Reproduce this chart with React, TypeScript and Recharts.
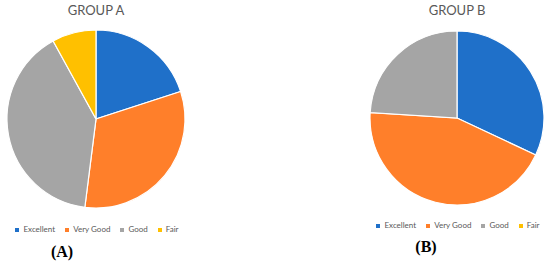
import React from "react";
import { PieChart, Pie, Cell, Legend } from "recharts";

const categories = ["Excellent", "Very Good", "Good", "Fair"];
const groupA = [20, 32, 40, 8];
const groupB = [32, 44, 24, 0];
const colors = ["#1F70C9", "#FF7F2A", "#A5A5A5", "#FFC000"];

const FONT = "Lato, 'Open Sans', sans-serif";

function toRows(values: number[]) {
  return categories.map((name, i) => ({ name, value: values[i] }));
}

interface GroupPieProps {
  title: string;
  values: number[];
  left: number;
  width: number;
  cx: number;
  cy: number;
  r: number;
  legendTop: number;
}

function GroupPie({ title, values, left, width, cx, cy, r, legendTop }: GroupPieProps) {
  const data = toRows(values);
  return (
    <div style={{ position: "absolute", left, top: 0, width, height: 264 }}>
      <div
        style={{
          position: "absolute",
          left: cx - 50,
          width: 100,
          top: 2,
          textAlign: "center",
          fontFamily: FONT,
          fontSize: 13,
          color: "#595959",
        }}
      >
        {title}
      </div>
      <PieChart width={width} height={264} margin={{ top: 0, right: 0, bottom: 0, left: 0 }}>
        <Pie
          data={data}
          dataKey="value"
          nameKey="name"
          cx={cx}
          cy={cy}
          outerRadius={r}
          startAngle={90}
          endAngle={-270}
          stroke="#ffffff"
          strokeWidth={1.2}
          isAnimationActive={false}
        >
          {data.map((d, i) => (
            <Cell key={d.name} fill={colors[i]} />
          ))}
        </Pie>
        {/* trailing li margin is 10px, so nudge the box 5px right to keep it centred */}
        <Legend
          iconType="square"
          iconSize={4}
          layout="horizontal"
          align="center"
          itemSorter={(item: any) => categories.indexOf(item.value)}
          wrapperStyle={{
            top: legendTop,
            left: cx - 100 + 6,
            width: 200,
            fontFamily: FONT,
            fontSize: 8,
            lineHeight: "10px",
          }}
          formatter={(value: string) => <span style={{ color: "#595959" }}>{value}</span>}
        />
      </PieChart>
    </div>
  );
}

export default function App() {
  return (
    <div
      style={{
        position: "absolute",
        left: 0,
        top: 0,
        width: 550,
        height: 264,
        background: "#ffffff",
        overflow: "hidden",
      }}
    >
      <GroupPie title="GROUP A" values={groupA} left={0} width={200} cx={96} cy={119} r={89} legendTop={224} />
      <GroupPie title="GROUP B" values={groupB} left={360} width={190} cx={97} cy={118} r={87} legendTop={220} />
      <div
        style={{
          position: "absolute",
          left: 42,
          width: 40,
          top: 242,
          textAlign: "center",
          fontFamily: "'Liberation Serif', 'DejaVu Serif', serif",
          fontWeight: "bold",
          fontSize: 16,
          lineHeight: "20px",
        }}
      >
        (A)
      </div>
      <div
        style={{
          position: "absolute",
          left: 406,
          width: 40,
          top: 237,
          textAlign: "center",
          fontFamily: "'Liberation Serif', 'DejaVu Serif', serif",
          fontWeight: "bold",
          fontSize: 16,
          lineHeight: "20px",
        }}
      >
        (B)
      </div>
    </div>
  );
}
